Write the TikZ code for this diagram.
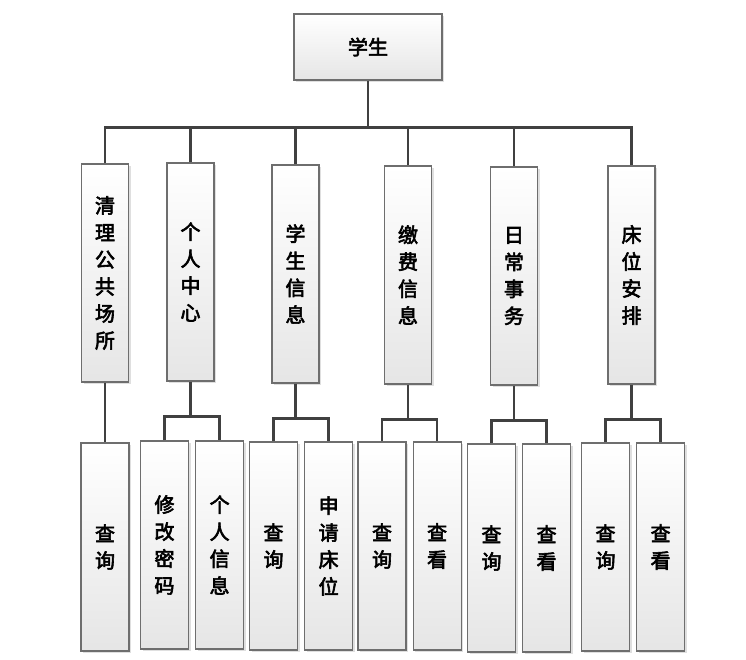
\documentclass[tikz,border=0pt]{standalone}
\usepackage{fontspec}
\newfontfamily\cjk{Noto Sans CJK SC}[AutoFakeBold=3]
\usepackage{tikz}
\usetikzlibrary{positioning, shadows}
\definecolor{edgegray}{HTML}{6E6E6E}
\definecolor{linkgray}{HTML}{404040}
\tikzset{
  box/.style={draw=edgegray, line width=1.1pt, top color=white, bottom color=black!10,
    drop shadow={opacity=0.25, shadow xshift=2pt, shadow yshift=-2pt},
    align=center, inner sep=0pt, font=\cjk\bfseries\fontsize{20}{27}\selectfont},
  rootbox/.style={box, minimum width=148pt, minimum height=66pt},
  catbox/.style={box, minimum width=47pt, minimum height=218pt, text width=22pt},
  leafbox/.style={box, minimum width=48pt, minimum height=208pt, text width=22pt},
  link/.style={draw=linkgray, line width=2.3pt}
}
\begin{document}
\begin{tikzpicture}[x=1pt, y=-1pt]
    \useasboundingbox (0,0) rectangle (746,659);

    \node[rootbox] (root) at (368,47) {学生};

    % second level
    \node[catbox] (l1) at (105,273) {清\\理\\公\\共\\场\\所};
    \node[catbox] (l2) at (190.5,272) {个\\人\\中\\心};
    \node[catbox] (l3) at (295.5,274) {学\\生\\信\\息};
    \node[catbox] (l4) at (408,275) {缴\\费\\信\\息};
    \node[catbox] (l5) at (514,276) {日\\常\\事\\务};
    \node[catbox] (l6) at (631.5,275) {床\\位\\安\\排};

    % third level
    \node[leafbox] (l1a) at (105,547) {查\\询};
    \node[leafbox] (l2a) at (164.5,545) {修\\改\\密\\码};
    \node[leafbox, right=6pt of l2a] (l2b) {个\\人\\信\\息};
    \node[leafbox] (l3a) at (273.5,546) {查\\询};
    \node[leafbox, right=6pt of l3a] (l3b) {申\\请\\床\\位};
    \node[leafbox] (l4a) at (382,546) {查\\询};
    \node[leafbox, right=6pt of l4a] (l4b) {查\\看};
    \node[leafbox] (l5a) at (491.5,548) {查\\询};
    \node[leafbox, right=6pt of l5a] (l5b) {查\\看};
    \node[leafbox] (l6a) at (605.5,547) {查\\询};
    \node[leafbox, right=6pt of l6a] (l6b) {查\\看};

    % connectors
    \draw[link] (root.south) -- ++(0,47) coordinate (bus);
    \draw[link] (l1.north) |- (bus) -| (l6.north);
    \foreach \c in {2,3,4,5}
      \draw[link] (l\c.north) -- (l\c.north |- bus);
    \draw[link] (l1.south) -- (l1a.north);
    \foreach \c in {2,3,4,5,6} {
      \draw[link] (l\c.south) -- ++(0,35) coordinate (hub\c);
      \draw[link] (l\c a.north) |- (hub\c) -| (l\c b.north);
    }
\end{tikzpicture}
\end{document}
